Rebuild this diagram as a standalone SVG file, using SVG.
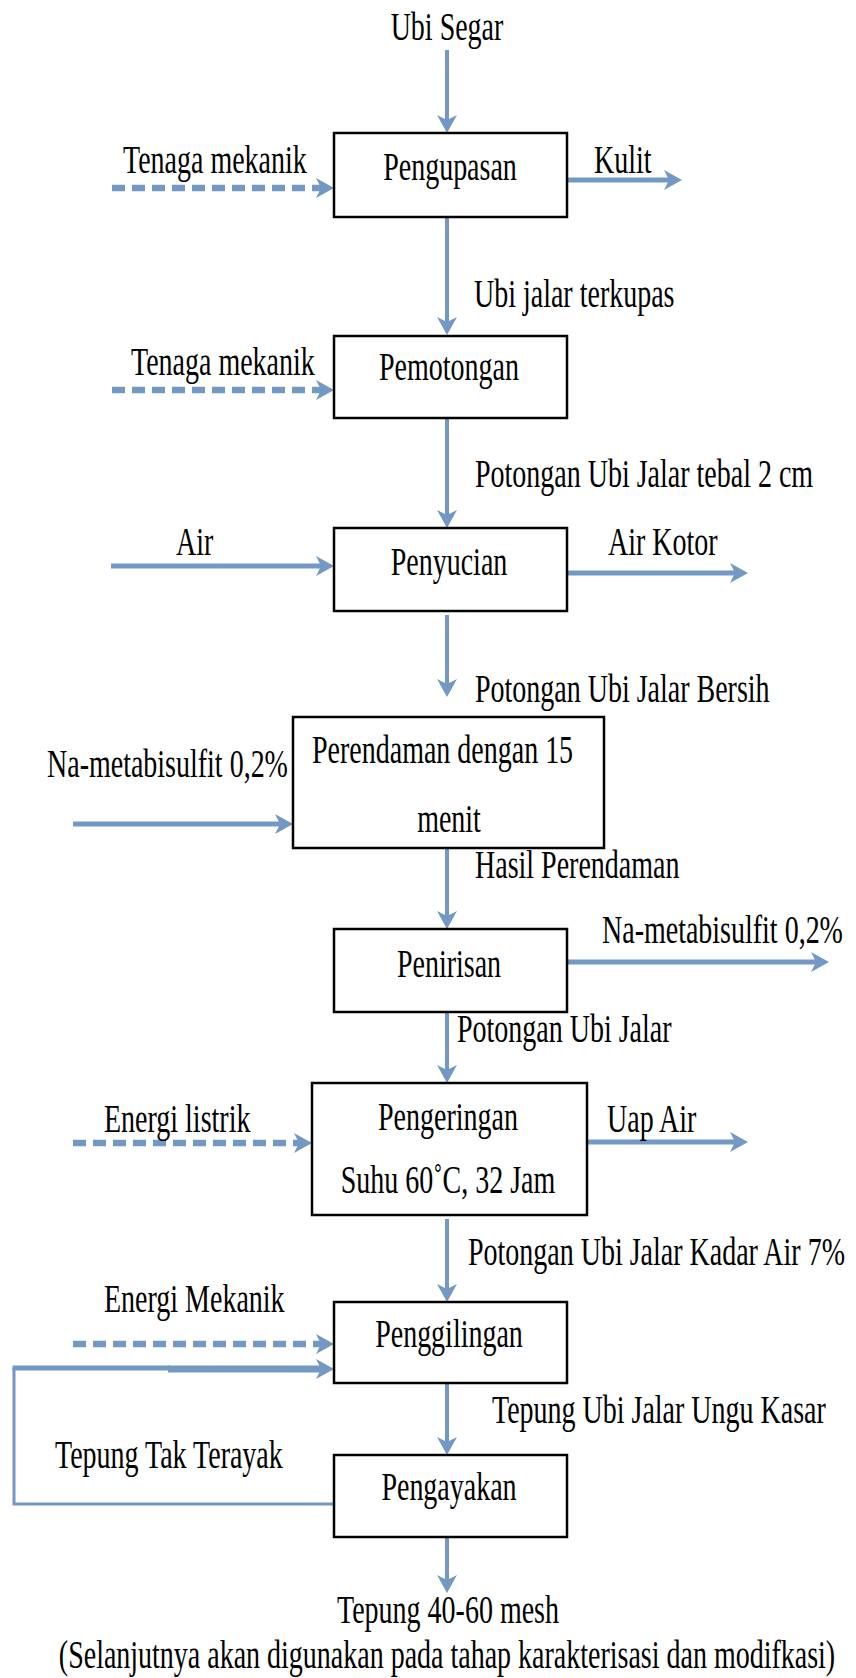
<svg xmlns="http://www.w3.org/2000/svg" width="856" height="1678" viewBox="0 0 856 1678">
<style>
.t{font-family:"Liberation Serif","Times New Roman",serif;font-size:28px;fill:#000}
.m{text-anchor:middle}
.box{fill:#fff;stroke:#000;stroke-width:2.5}
.v{stroke:#7398C4;stroke-width:4;fill:none}
.h{stroke:#7398C4;stroke-width:5;fill:none}
.d{stroke:#7398C4;stroke-width:6.5;fill:none;stroke-dasharray:13 7}
.fb{stroke:#7398C4;stroke-width:3;fill:none}
</style>
<defs>
<marker id="ah" viewBox="0 0 18 20" refX="10" refY="10" markerWidth="18" markerHeight="20" markerUnits="userSpaceOnUse" orient="auto">
<path d="M0,0 L18,10 L0,20 L5,10 Z" fill="#7398C4"/>
</marker>
</defs>
<rect width="856" height="1678" fill="#fff"/>
<g id="connectors">
<line class="v" x1="447" y1="50" x2="447" y2="125" marker-end="url(#ah)"/>
<line class="v" x1="447" y1="217" x2="447" y2="327" marker-end="url(#ah)"/>
<line class="v" x1="447" y1="418" x2="447" y2="520" marker-end="url(#ah)"/>
<line class="v" x1="447" y1="615" x2="447" y2="689" marker-end="url(#ah)"/>
<line class="v" x1="447" y1="848" x2="447" y2="921" marker-end="url(#ah)"/>
<line class="v" x1="447" y1="1012" x2="447" y2="1075" marker-end="url(#ah)"/>
<line class="v" x1="447" y1="1219" x2="447" y2="1294" marker-end="url(#ah)"/>
<line class="v" x1="447" y1="1383" x2="447" y2="1447" marker-end="url(#ah)"/>
<line class="v" x1="447" y1="1537" x2="447" y2="1585" marker-end="url(#ah)"/>
<line class="d" x1="112" y1="188" x2="326" y2="188" marker-end="url(#ah)"/>
<line class="h" x1="567" y1="180" x2="674" y2="180" marker-end="url(#ah)"/>
<line class="d" x1="112" y1="390" x2="326" y2="390" marker-end="url(#ah)"/>
<line class="h" x1="111" y1="566" x2="326" y2="566" marker-end="url(#ah)"/>
<line class="h" x1="567" y1="573" x2="740" y2="573" marker-end="url(#ah)"/>
<line class="h" x1="73" y1="824" x2="285" y2="824" marker-end="url(#ah)"/>
<line class="h" x1="567" y1="962" x2="821" y2="962" marker-end="url(#ah)"/>
<line class="d" x1="73" y1="1143" x2="304" y2="1143" marker-end="url(#ah)"/>
<line class="h" x1="587" y1="1142" x2="740" y2="1142" marker-end="url(#ah)"/>
<line class="d" x1="73" y1="1344" x2="326" y2="1344" marker-end="url(#ah)"/>
<path class="fb" d="M334,1504 H14 V1368"/>
<line class="h" x1="12.5" y1="1368" x2="170" y2="1368"/>
<line x1="168" y1="1369" x2="326" y2="1369" stroke="#7398C4" stroke-width="7" marker-end="url(#ah)"/>
</g>
<g id="n-pengupasan" font-family="Liberation Serif, serif"><rect class="box" x="334" y="133" width="233" height="84"/>
<text class="t m" transform="translate(450 180) scale(1 1.4)">Pengupasan</text></g>
<g id="n-pemotongan" font-family="Liberation Serif, serif"><rect class="box" x="334" y="336" width="233" height="82"/>
<text class="t m" transform="translate(449 380) scale(1 1.4)">Pemotongan</text></g>
<g id="n-penyucian" font-family="Liberation Serif, serif"><rect class="box" x="334" y="528" width="233" height="83"/>
<text class="t m" transform="translate(449 575) scale(1 1.4)">Penyucian</text></g>
<g id="n-perendaman" font-family="Liberation Serif, serif"><rect class="box" x="293" y="717" width="311" height="131"/>
<text class="t" transform="translate(312 763) scale(1 1.4)">Perendaman dengan 15</text>
<text class="t m" transform="translate(449 832) scale(1 1.4)">menit</text></g>
<g id="n-penirisan" font-family="Liberation Serif, serif"><rect class="box" x="334" y="929" width="233" height="83"/>
<text class="t m" transform="translate(449 977) scale(1 1.4)">Penirisan</text></g>
<g id="n-pengeringan" font-family="Liberation Serif, serif"><rect class="box" x="312" y="1083" width="275" height="132"/>
<text class="t m" transform="translate(448 1130) scale(1 1.4)">Pengeringan</text>
<text class="t m" transform="translate(448 1193) scale(1 1.4)">Suhu 60˚C, 32 Jam</text></g>
<g id="n-penggilingan" font-family="Liberation Serif, serif"><rect class="box" x="334" y="1302" width="233" height="81"/>
<text class="t m" transform="translate(449 1347) scale(1 1.4)">Penggilingan</text></g>
<g id="n-pengayakan" font-family="Liberation Serif, serif"><rect class="box" x="334" y="1455" width="233" height="82"/>
<text class="t m" transform="translate(449 1500) scale(1 1.4)">Pengayakan</text></g>
<g id="labels" font-family="Liberation Serif, serif">
<text class="t m" transform="translate(447 40) scale(1 1.4)">Ubi Segar</text>
<text class="t" transform="translate(123 173) scale(1 1.4)">Tenaga mekanik</text>
<text class="t" transform="translate(594 173) scale(1 1.4)">Kulit</text>
<text class="t" transform="translate(474 307) scale(1 1.4)">Ubi jalar terkupas</text>
<text class="t" transform="translate(131 375) scale(1 1.4)">Tenaga mekanik</text>
<text class="t" transform="translate(475 487) scale(1 1.4)">Potongan Ubi Jalar tebal 2 cm</text>
<text class="t" transform="translate(176 555) scale(1 1.4)">Air</text>
<text class="t" transform="translate(608 555) scale(1 1.4)">Air Kotor</text>
<text class="t" transform="translate(475 702) scale(1 1.4)">Potongan Ubi Jalar Bersih</text>
<text class="t" transform="translate(47 777) scale(1 1.4)">Na-metabisulfit 0,2%</text>
<text class="t" transform="translate(475 878) scale(1 1.4)">Hasil Perendaman</text>
<text class="t" transform="translate(602 943) scale(1 1.4)">Na-metabisulfit 0,2%</text>
<text class="t" transform="translate(457 1042) scale(1 1.4)">Potongan Ubi Jalar</text>
<text class="t" transform="translate(104 1132) scale(1 1.4)">Energi listrik</text>
<text class="t" transform="translate(607 1132) scale(1 1.4)">Uap Air</text>
<text class="t" transform="translate(468 1265) scale(1 1.4)">Potongan Ubi Jalar Kadar Air 7%</text>
<text class="t" transform="translate(104 1312) scale(1 1.4)">Energi Mekanik</text>
<text class="t" transform="translate(492 1423) scale(1 1.4)">Tepung Ubi Jalar Ungu Kasar</text>
<text class="t" transform="translate(55 1468) scale(1 1.4)">Tepung Tak Terayak</text>
<text class="t m" transform="translate(448 1623) scale(1 1.4)">Tepung 40-60 mesh</text>
<text class="t m" transform="translate(447 1668) scale(1 1.4)">(Selanjutnya akan digunakan pada tahap karakterisasi dan modifkasi)</text>
</g>
</svg>
